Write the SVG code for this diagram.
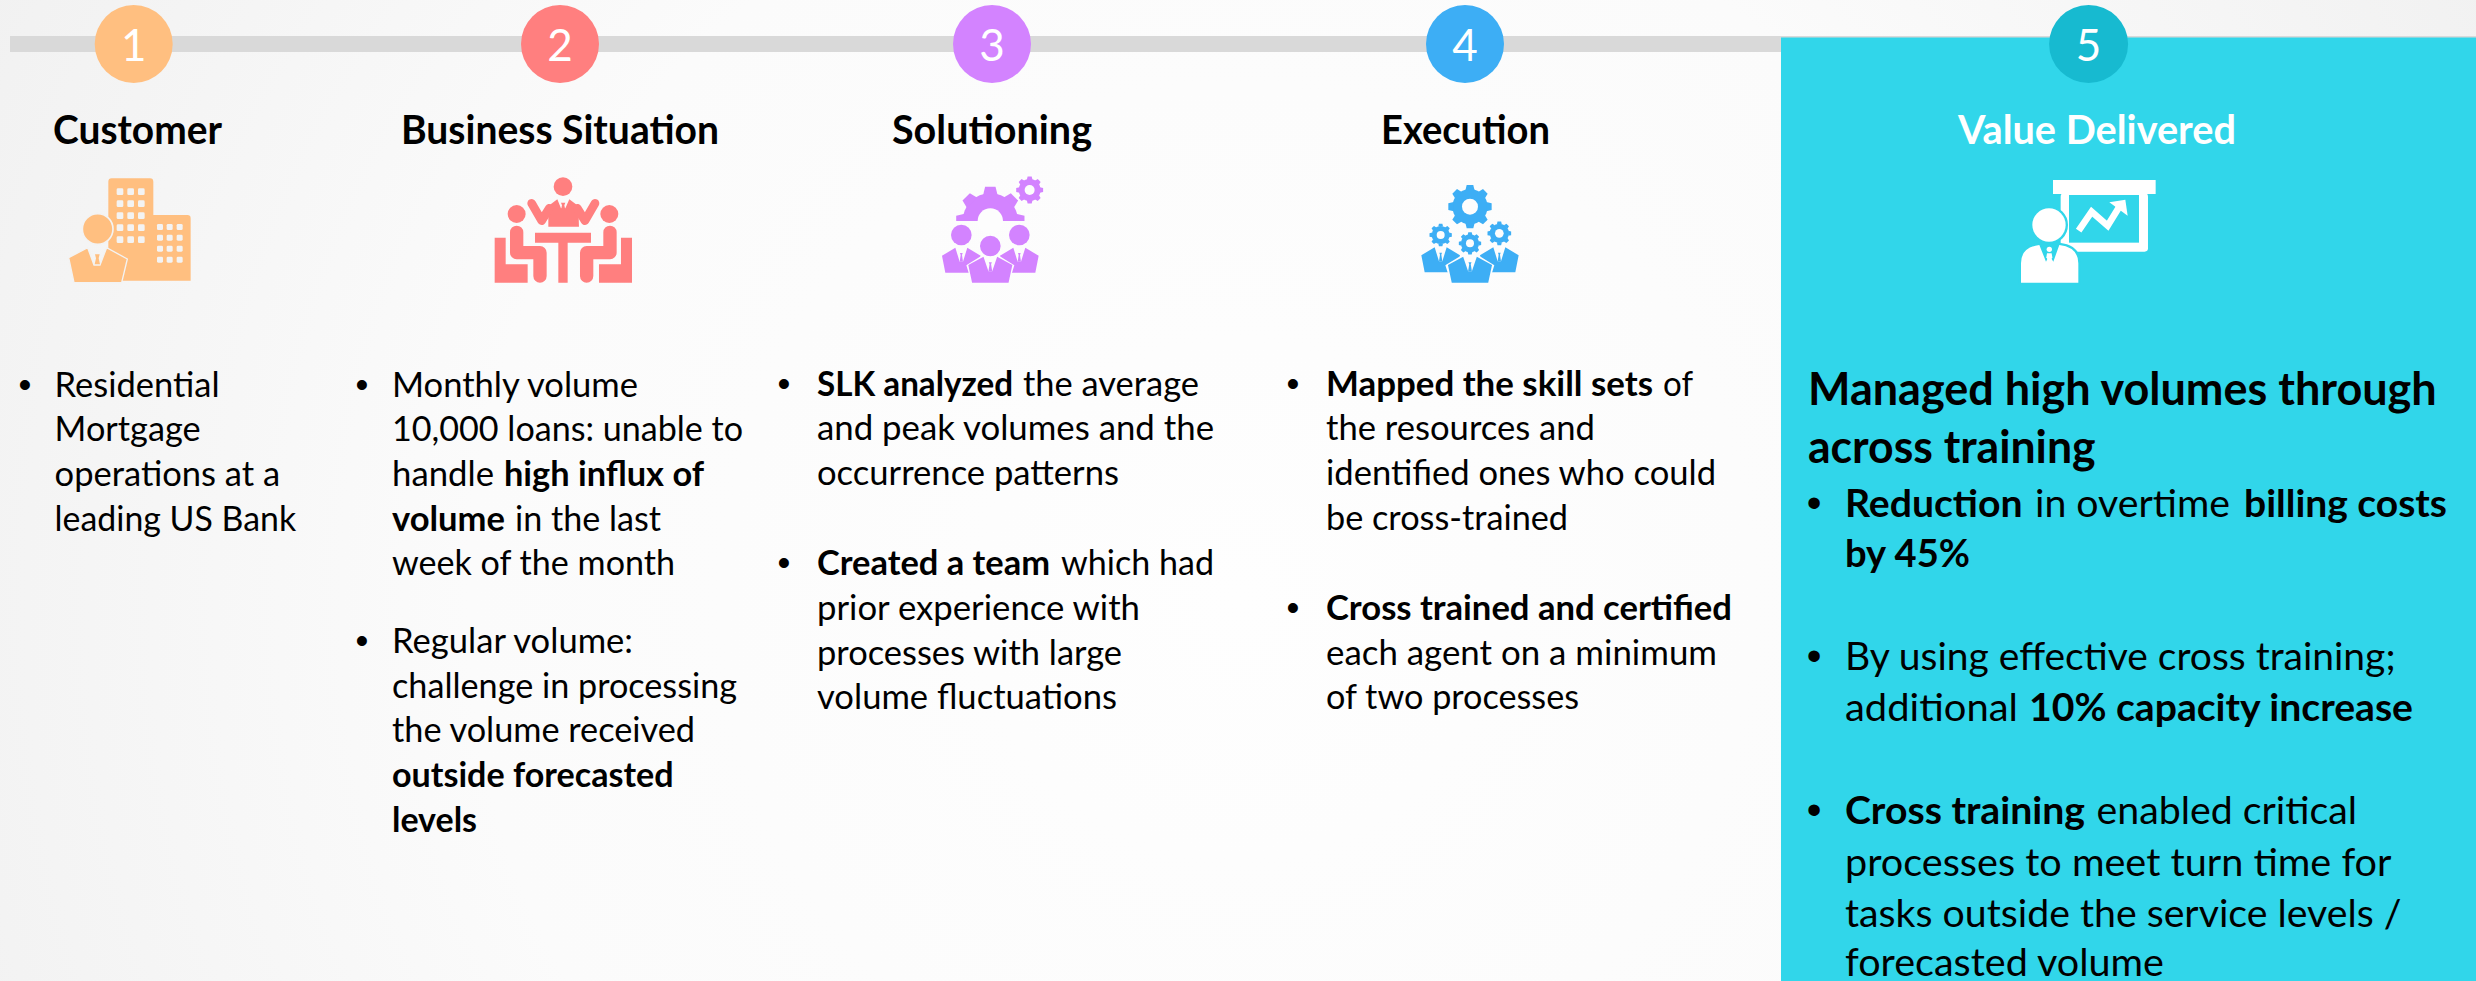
<svg xmlns="http://www.w3.org/2000/svg" width="2476" height="981" viewBox="0 0 2476 981">
<style>
text{font-family:Lato,"Open Sans",sans-serif;fill:#000}
.n{font-size:44px;fill:#fff;text-anchor:middle}
.t{font-size:39.5px;font-weight:700}
.l{font-size:33.8px}
.v{font-size:38.7px}
.h{font-size:46px;font-weight:700}
.b{font-weight:700}
.d{font-family:"Liberation Sans",Arial,sans-serif;font-size:36.7px}
.dv{font-family:"Liberation Sans",Arial,sans-serif;font-size:42px}
</style>
<defs>
<radialGradient id="bg" gradientUnits="userSpaceOnUse" cx="1238" cy="600" r="1400">
<stop offset="0" stop-color="#fefefe"/><stop offset=".55" stop-color="#fbfbfb"/><stop offset="1" stop-color="#f1f1f1"/>
</radialGradient>
<g id="gear"><circle r=".8"/><path id="tooth" d="M.74 -.21L.985 -.15V.15L.74 .21Z"/><use href="#tooth" transform="rotate(45)"/><use href="#tooth" transform="rotate(90)"/><use href="#tooth" transform="rotate(135)"/><use href="#tooth" transform="rotate(180)"/><use href="#tooth" transform="rotate(225)"/><use href="#tooth" transform="rotate(270)"/><use href="#tooth" transform="rotate(315)"/></g>
<g id="suit"><path d="M-58 24L-18 0L-5 42H5L18 0L58 24L48 75H-48Z"/><path d="M-4 16h8l-2 6l3 20h-10l3-20z"/></g>
<clipPath id="half"><rect x="0" y="0" width="500" height="183"/></clipPath>
</defs>
<rect id="background" width="2476" height="981" fill="url(#bg)"/>
<g id="connectors"><rect x="10" y="36" width="2466" height="16" fill="#d9d9d9"/></g>

<g id="panel5"><rect x="1781" y="37.5" width="695" height="943.5" fill="#31d6ea"/></g>

<g id="step1">
<ellipse cx="133.7" cy="44" rx="39" ry="39" fill="#ffbf80"/>
<text class="n" x="133.7" y="61">1</text>
<text class="t" x="53" y="143.5" textLength="169" lengthAdjust="spacingAndGlyphs">Customer</text>
<g transform="translate(50,160) scale(.3333)" fill="#ffbf80">
<path d="M175 65q0-10 10-10h115q10 0 10 10v100h102q10 0 10 10v187H175Z"/>
<g fill="#f3f3f3">
<rect x="200" y="85" width="20" height="20" rx="4"/><rect x="232" y="85" width="20" height="20" rx="4"/><rect x="264" y="85" width="20" height="20" rx="4"/>
<rect x="200" y="121" width="20" height="20" rx="4"/><rect x="232" y="121" width="20" height="20" rx="4"/><rect x="264" y="121" width="20" height="20" rx="4"/>
<rect x="200" y="157" width="20" height="20" rx="4"/><rect x="232" y="157" width="20" height="20" rx="4"/><rect x="264" y="157" width="20" height="20" rx="4"/>
<rect x="200" y="193" width="20" height="20" rx="4"/><rect x="232" y="193" width="20" height="20" rx="4"/><rect x="264" y="193" width="20" height="20" rx="4"/>
<rect x="200" y="229" width="20" height="20" rx="4"/><rect x="232" y="229" width="20" height="20" rx="4"/><rect x="264" y="229" width="20" height="20" rx="4"/>
<rect x="321" y="192" width="18" height="18" rx="4"/><rect x="350" y="192" width="18" height="18" rx="4"/><rect x="380" y="192" width="18" height="18" rx="4"/>
<rect x="321" y="224" width="18" height="18" rx="4"/><rect x="350" y="224" width="18" height="18" rx="4"/><rect x="380" y="224" width="18" height="18" rx="4"/>
<rect x="321" y="257" width="18" height="18" rx="4"/><rect x="350" y="257" width="18" height="18" rx="4"/><rect x="380" y="257" width="18" height="18" rx="4"/>
<rect x="321" y="290" width="18" height="18" rx="4"/><rect x="350" y="290" width="18" height="18" rx="4"/><rect x="380" y="290" width="18" height="18" rx="4"/>
</g>
<circle cx="143" cy="207" r="46" stroke="#f3f3f3" stroke-width="5"/>
<path d="M56 293L113 263L132 315H150L170 263L232 297L215 368H72Z" stroke="#f3f3f3" stroke-width="4"/>
<path d="M135 283h14l-3 12l4 18h-16l4-18z" stroke="none"/>
</g>
</g>

<g id="step2">
<circle cx="560" cy="44" r="39" fill="#ff7f7f"/>
<text class="n" x="560" y="61">2</text>
<text class="t" x="401" y="143.5" textLength="318" lengthAdjust="spacingAndGlyphs">Business Situation</text>
<g transform="translate(480,160) scale(.3333)" fill="#ff7f7f">
<circle cx="249" cy="80" r="28"/>
<path d="M205 138L232 118L243 145H256L268 118L295 138L297 200H205Z"/>
<path d="M155 130L185 182L208 145M345 130L315 182L292 145" fill="none" stroke="#ff7f7f" stroke-width="26" stroke-linecap="round" stroke-linejoin="round"/>
<path d="M243 128h13l-3 8l3 14h-13l3-14z" fill="#ff7f7f"/>
<circle cx="110" cy="162" r="27"/><circle cx="388" cy="162" r="27"/>
<path d="M110 217V278H180V348M390 217V278H320V348" fill="none" stroke="#ff7f7f" stroke-width="40" stroke-linecap="round" stroke-linejoin="round"/>
<path d="M44 233H77V313H143V368H44ZM456 233H423V313H357V368H456Z"/>
<path d="M165 218H333V248H263V368H235V248H165Z"/>
</g>
</g>

<g id="step3">
<circle cx="992" cy="44" r="39" fill="#d383ff"/>
<text class="n" x="992" y="61">3</text>
<text class="t" x="892" y="143.5" textLength="200" lengthAdjust="spacingAndGlyphs">Solutioning</text>
<g transform="translate(920,160) scale(.3333)" fill="#d383ff">
<g clip-path="url(#half)"><use href="#gear" transform="translate(211,183) scale(104)"/></g>
<circle cx="211" cy="183" r="38" fill="#fdfdfd"/>
<circle cx="329" cy="90" r="46" fill="#fdfdfd"/>
<use href="#gear" transform="translate(329,90) scale(41)"/>
<circle cx="329" cy="90" r="15" fill="#fdfdfd"/>
<circle cx="124" cy="225" r="31"/><circle cx="298" cy="225" r="31"/>
<use href="#suit" transform="translate(124,263)"/><use href="#suit" transform="translate(298,263)"/>
<path d="M145 318L190 290L232 290L277 318L262 368H160Z" stroke="#fdfdfd" stroke-width="10" fill="#fdfdfd"/>
<use href="#suit" transform="translate(211,290) scale(1.14,1.04)"/>
<circle cx="211" cy="258" r="33" stroke="#fdfdfd" stroke-width="4"/>
</g>
</g>

<g id="step4">
<circle cx="1465" cy="44" r="39" fill="#3daef5"/>
<text class="n" x="1465" y="61">4</text>
<text class="t" x="1381" y="143.5" textLength="169" lengthAdjust="spacingAndGlyphs">Execution</text>
<g transform="translate(1390,170) scale(.3333)" fill="#3daef5">
<use href="#suit" transform="translate(152,232)"/><use href="#suit" transform="translate(328,232)"/>
<path d="M172 288L218 260L262 260L307 288L292 338H188Z" stroke="#fdfdfd" stroke-width="10" fill="#fdfdfd"/>
<use href="#suit" transform="translate(240,260) scale(1.14,1.04)"/>
<circle cx="240" cy="220" r="38" fill="#fdfdfd"/>
<use href="#gear" transform="translate(240,110) scale(66)"/><circle cx="240" cy="110" r="24" fill="#fdfdfd"/>
<use href="#gear" transform="translate(152,195) scale(34)"/><circle cx="152" cy="195" r="12" fill="#fdfdfd"/>
<use href="#gear" transform="translate(328,190) scale(36)"/><circle cx="328" cy="190" r="13" fill="#fdfdfd"/>
<use href="#gear" transform="translate(240,220) scale(34)"/><circle cx="240" cy="220" r="12" fill="#fdfdfd"/>
</g>
</g>

<g id="step5">
<ellipse cx="2088.6" cy="44" rx="39.5" ry="39" fill="#17bad0"/>
<text class="n" x="2088.6" y="61">5</text>
<text class="t" x="1958" y="143.5" textLength="278" lengthAdjust="spacingAndGlyphs" style="fill:#fff">Value Delivered</text>
<g transform="translate(2000,160) scale(.3333)" fill="#fff">
<rect x="159" y="60" width="308" height="42"/>
<rect x="182" y="100" width="262" height="175" rx="10"/>
<rect x="207" y="105" width="210" height="143" fill="#31d6ea"/>
<path d="M236 212L275 155L323 197L358 140" fill="none" stroke="#fff" stroke-width="20"/>
<path d="M328 127L376 119L383 167Z"/>
<circle cx="147" cy="195" r="50" stroke="#31d6ea" stroke-width="14" paint-order="stroke"/>
<path d="M63 368V310Q63 262 118 255L138 305L148 285L160 305L178 255Q235 262 235 310V368Z" stroke="#31d6ea" stroke-width="14" paint-order="stroke"/>
<circle cx="148" cy="268" r="8"/>
<path d="M141 280h14l2 12l-9 16l-9-16z"/>
</g>
</g>

<g id="text1">
<text class="d" x="18.6" y="396.7">•</text>
<text class="l" x="54.6" y="396.7" textLength="165" lengthAdjust="spacingAndGlyphs">Residential</text>
<text class="l" x="54.6" y="441" textLength="146" lengthAdjust="spacingAndGlyphs">Mortgage</text>
<text class="l" x="54.6" y="486" textLength="225.5" lengthAdjust="spacingAndGlyphs">operations at a</text>
<text class="l" x="54.6" y="531" textLength="241.5" lengthAdjust="spacingAndGlyphs">leading US Bank</text>
</g>

<g id="text2">
<text class="d" x="355.6" y="396.7">•</text>
<text class="l" x="392" y="396.7" textLength="246" lengthAdjust="spacingAndGlyphs">Monthly volume</text>
<text class="l" x="392" y="441" textLength="351" lengthAdjust="spacingAndGlyphs">10,000 loans: unable to</text>
<text class="l" x="392" y="486" textLength="102" lengthAdjust="spacingAndGlyphs">handle</text>
<text class="l b" x="504" y="486" textLength="200" lengthAdjust="spacingAndGlyphs">high influx of</text>
<text class="l b" x="392" y="531" textLength="113" lengthAdjust="spacingAndGlyphs">volume</text>
<text class="l" x="515" y="531" textLength="146" lengthAdjust="spacingAndGlyphs">in the last</text>
<text class="l" x="392" y="575" textLength="283" lengthAdjust="spacingAndGlyphs">week of the month</text>
<text class="d" x="355.6" y="653.3">•</text>
<text class="l" x="392" y="653.3" textLength="241" lengthAdjust="spacingAndGlyphs">Regular volume:</text>
<text class="l" x="392" y="698.3" textLength="345" lengthAdjust="spacingAndGlyphs">challenge in processing</text>
<text class="l" x="392" y="742.3" textLength="303" lengthAdjust="spacingAndGlyphs">the volume received</text>
<text class="l b" x="392" y="786.7" textLength="281.5" lengthAdjust="spacingAndGlyphs">outside forecasted</text>
<text class="l b" x="392" y="831.7" textLength="85" lengthAdjust="spacingAndGlyphs">levels</text>
</g>

<g id="text3">
<text class="d" x="777.6" y="395.7">•</text>
<text class="l b" x="817" y="395.7" textLength="196" lengthAdjust="spacingAndGlyphs">SLK analyzed</text>
<text class="l" x="1023" y="395.7" textLength="176" lengthAdjust="spacingAndGlyphs">the average</text>
<text class="l" x="817" y="440" textLength="397" lengthAdjust="spacingAndGlyphs">and peak volumes and the</text>
<text class="l" x="817" y="485" textLength="302" lengthAdjust="spacingAndGlyphs">occurrence patterns</text>
<text class="d" x="777.6" y="575">•</text>
<text class="l b" x="817" y="575" textLength="233" lengthAdjust="spacingAndGlyphs">Created a team</text>
<text class="l" x="1061" y="575" textLength="153" lengthAdjust="spacingAndGlyphs">which had</text>
<text class="l" x="817" y="620" textLength="323" lengthAdjust="spacingAndGlyphs">prior experience with</text>
<text class="l" x="817" y="665" textLength="305" lengthAdjust="spacingAndGlyphs">processes with large</text>
<text class="l" x="817" y="709" textLength="300" lengthAdjust="spacingAndGlyphs">volume fluctuations</text>
</g>

<g id="text4">
<text class="d" x="1286.6" y="395.7">•</text>
<text class="l b" x="1326" y="395.7" textLength="327" lengthAdjust="spacingAndGlyphs">Mapped the skill sets</text>
<text class="l" x="1663" y="395.7" textLength="30" lengthAdjust="spacingAndGlyphs">of</text>
<text class="l" x="1326" y="440" textLength="269" lengthAdjust="spacingAndGlyphs">the resources and</text>
<text class="l" x="1326" y="485" textLength="390" lengthAdjust="spacingAndGlyphs">identified ones who could</text>
<text class="l" x="1326" y="530" textLength="242" lengthAdjust="spacingAndGlyphs">be cross-trained</text>
<text class="d" x="1286.6" y="620">•</text>
<text class="l b" x="1326" y="620" textLength="406" lengthAdjust="spacingAndGlyphs">Cross trained and certified</text>
<text class="l" x="1326" y="665" textLength="391" lengthAdjust="spacingAndGlyphs">each agent on a minimum</text>
<text class="l" x="1326" y="709" textLength="253" lengthAdjust="spacingAndGlyphs">of two processes</text>
</g>

<g id="text5">
<text class="h" x="1808" y="405" textLength="628.7" lengthAdjust="spacingAndGlyphs">Managed high volumes through</text>
<text class="h" x="1808" y="463" textLength="287.6" lengthAdjust="spacingAndGlyphs">across training</text>
<text class="dv" x="1806.7" y="516.6">•</text>
<text class="v b" x="1845" y="516.6" textLength="177.6" lengthAdjust="spacingAndGlyphs">Reduction</text>
<text class="v" x="2035" y="516.6" textLength="195" lengthAdjust="spacingAndGlyphs">in overtime</text>
<text class="v b" x="2244" y="516.6" textLength="203" lengthAdjust="spacingAndGlyphs">billing costs</text>
<text class="v b" x="1845" y="567.3" textLength="125" lengthAdjust="spacingAndGlyphs">by 45%</text>
<text class="dv" x="1806.7" y="670">•</text>
<text class="v" x="1845" y="670" textLength="550.6" lengthAdjust="spacingAndGlyphs">By using effective cross training;</text>
<text class="v" x="1845" y="721.4" textLength="173" lengthAdjust="spacingAndGlyphs">additional</text>
<text class="v b" x="2029" y="721.4" textLength="384" lengthAdjust="spacingAndGlyphs">10% capacity increase</text>
<text class="dv" x="1806.7" y="823.6">•</text>
<text class="v b" x="1845" y="823.6" textLength="240" lengthAdjust="spacingAndGlyphs">Cross training</text>
<text class="v" x="2096.5" y="823.6" textLength="260.5" lengthAdjust="spacingAndGlyphs">enabled critical</text>
<text class="v" x="1845" y="875.5" textLength="546.5" lengthAdjust="spacingAndGlyphs">processes to meet turn time for</text>
<text class="v" x="1845" y="926.7" textLength="556.5" lengthAdjust="spacingAndGlyphs">tasks outside the service levels /</text>
<text class="v" x="1845" y="975.7" textLength="319" lengthAdjust="spacingAndGlyphs">forecasted volume</text>
</g>
</svg>
